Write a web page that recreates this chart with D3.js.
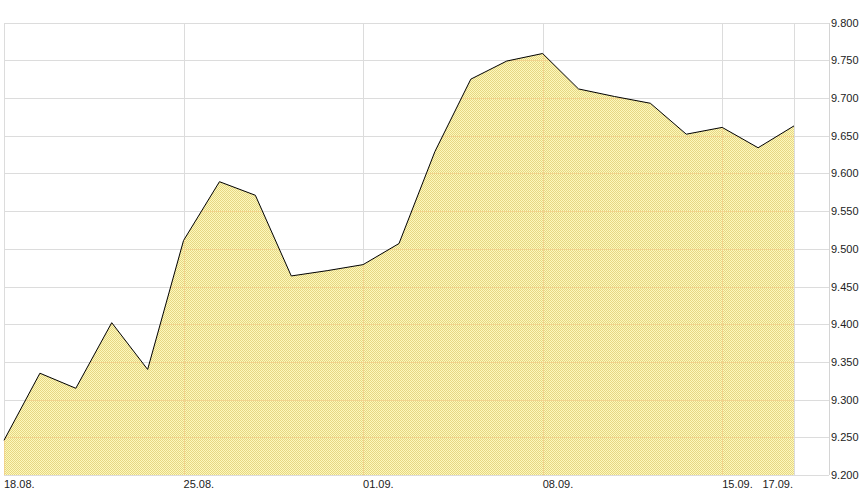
<!DOCTYPE html>
<html>
<head>
<meta charset="utf-8">
<script src="https://cdn.jsdelivr.net/npm/d3@7"></script>
<style>
body{margin:0;background:#fff;}
text{font-family:Arial,"Liberation Sans",sans-serif;font-size:11px;fill:#222;}
</style>
</head>
<body>
<svg></svg>
<script>

// trading days shown on the chart
var dates = ["18.08.","19.08.","20.08.","21.08.","22.08.","25.08.","26.08.","27.08.","28.08.","29.08.",
             "01.09.","02.09.","03.09.","04.09.","05.09.","08.09.","09.09.","10.09.","11.09.","12.09.",
             "15.09.","16.09.","17.09."]
var values = [9.246,9.335,9.315,9.402,9.340,9.511,9.589,9.571,9.464,9.471,
              9.479,9.507,9.629,9.725,9.749,9.759,9.712,9.702,9.693,9.652,
              9.661,9.634,9.663]

var xTickLabels = ["18.08.","25.08.","01.09.","08.09.","15.09.","17.09."]
var yTicks = [9.2,9.25,9.3,9.35,9.4,9.45,9.5,9.55,9.6,9.65,9.7,9.75,9.8]

var screen = {width:861, height:492}
var plot = {left:4, right:794, axis:829, top:22.6, bottom:475}

var svg = d3.select("svg")
    .attr("width",screen.width)
    .attr("height",screen.height)

var xScale = d3.scalePoint()
    .domain(dates)
    .range([plot.left, plot.right])

var yScale = d3.scaleLinear()
    .domain([9.2, 9.8])
    .range([plot.bottom, plot.top])

var data = dates.map(function(d,i){ return {date:d, value:values[i]} })

// dithered fill like the original
var defs = svg.append("defs")
var pat = defs.append("pattern")
    .attr("id","dither")
    .attr("patternUnits","userSpaceOnUse")
    .attr("width",2)
    .attr("height",2)
pat.append("rect").attr("width",2).attr("height",2).attr("fill","#fdf9bc")
pat.append("rect").attr("width",1).attr("height",1).attr("fill","#e6d684")
pat.append("rect").attr("x",1).attr("y",1).attr("width",1).attr("height",1).attr("fill","#e6d684")

var area = d3.area()
    .x(function(d){ return xScale(d.date) })
    .y0(plot.bottom)
    .y1(function(d){ return yScale(d.value) })

var line = d3.line()
    .x(function(d){ return xScale(d.date) })
    .y(function(d){ return yScale(d.value) })

defs.append("clipPath")
    .attr("id","areaClip")
    .append("path")
    .attr("d",area(data))

var drawGrid = function(g, color)
{
    g.selectAll("line.h")
        .data(yTicks)
        .enter()
        .append("line")
        .attr("x1",plot.left)
        .attr("x2",plot.axis)
        .attr("y1",function(d){ return Math.round(yScale(d))+0.5 })
        .attr("y2",function(d){ return Math.round(yScale(d))+0.5 })
        .attr("stroke",color)

    g.selectAll("line.v")
        .data(xTickLabels)
        .enter()
        .append("line")
        .attr("x1",function(d){ return Math.round(xScale(d))+0.5 })
        .attr("x2",function(d){ return Math.round(xScale(d))+0.5 })
        .attr("y1",Math.round(plot.top))
        .attr("y2",plot.bottom)
        .attr("stroke",color)
}

drawGrid(svg.append("g").attr("id","grid"), "#dcdcdc")

// right axis line
svg.append("line")
    .attr("x1",plot.axis+0.5).attr("x2",plot.axis+0.5)
    .attr("y1",Math.round(plot.top)).attr("y2",plot.bottom)
    .attr("stroke","#d4d4d4")

svg.append("path")
    .attr("d",area(data))
    .attr("fill","url(#dither)")

drawGrid(svg.append("g").attr("clip-path","url(#areaClip)"), "#f2d48e")

svg.append("path")
    .attr("d",line(data))
    .attr("fill","none")
    .attr("stroke","#000")
    .attr("stroke-width",1)

// y labels on the right
svg.append("g")
    .selectAll("text")
    .data(yTicks)
    .enter()
    .append("text")
    .attr("x",plot.axis+2)
    .attr("y",function(d){ return yScale(d)+4 })
    .text(function(d){ return d3.format(".3f")(d) })

// x labels
svg.append("g")
    .selectAll("text")
    .data(xTickLabels)
    .enter()
    .append("text")
    .attr("x",function(d,i){ return i==xTickLabels.length-1 ? xScale(d)-1 : xScale(d) })
    .attr("y",488)
    .attr("text-anchor",function(d,i){ return i==xTickLabels.length-1 ? "end" : "start" })
    .text(function(d){ return d })

</script>
</body>
</html>
